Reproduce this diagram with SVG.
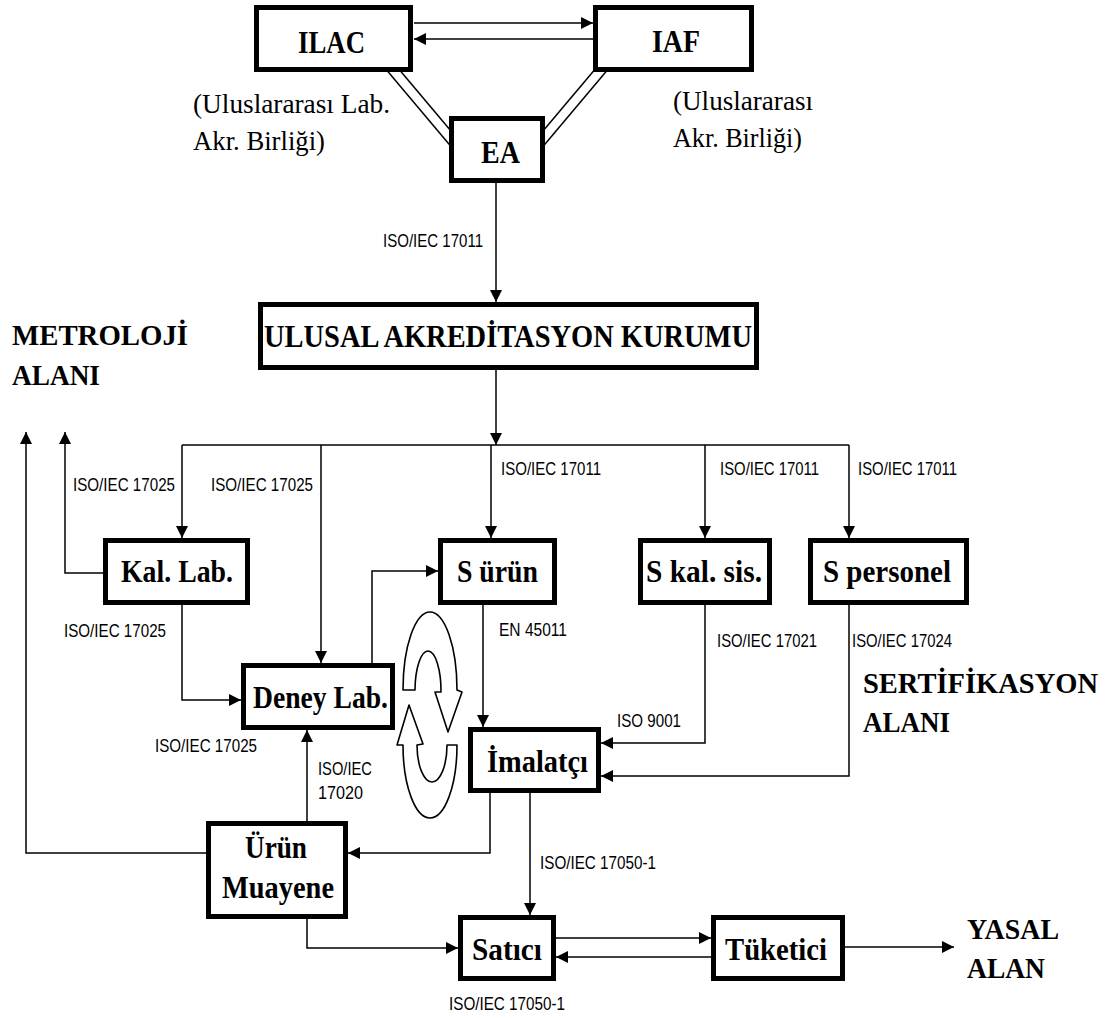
<svg xmlns="http://www.w3.org/2000/svg" width="1110" height="1018" viewBox="0 0 1110 1018">
<style>
.box{fill:#fff;stroke:#000;stroke-width:5}
.ln{fill:none;stroke:#000;stroke-width:1.5}
.arr{marker-end:url(#ah)}
.nt{font-family:"Liberation Serif","Times New Roman",serif;font-weight:bold;font-size:31px;fill:#000}
.area{font-family:"Liberation Serif","Times New Roman",serif;font-weight:bold;font-size:30px;fill:#000}
.note{font-family:"Liberation Serif","Times New Roman",serif;font-size:28px;fill:#000}
.lbl{font-family:"Liberation Sans Narrow","Liberation Sans",Arial,sans-serif;font-size:18.5px;fill:#000}
.cyc{fill:#fff;stroke:#000;stroke-width:1.6;stroke-linejoin:round}
</style>
<defs>
<marker id="ah" viewBox="0 0 12 12" refX="12" refY="6" markerWidth="12" markerHeight="12" markerUnits="userSpaceOnUse" orient="auto">
<path d="M0,0 L12,6 L0,12 z" fill="#000"/>
</marker>
</defs>
<rect width="1110" height="1018" fill="#fff"/>

<g id="connectors">
<path class="ln arr" d="M414,23 H593"/>
<path class="ln arr" d="M593,39 H414"/>
<path class="ln" d="M386.6,70 L451,146.4"/>
<path class="ln" d="M399.6,70 L451,131"/>
<path class="ln" d="M607.4,70 L543,146.4"/>
<path class="ln" d="M594.4,70 L543,131"/>
<path class="ln arr" d="M496,183 V302"/>
<path class="ln arr" d="M496,370 V445"/>
<path class="ln" d="M182,445 H849"/>
<path class="ln arr" d="M182,445 V538"/>
<path class="ln arr" d="M321,445 V663"/>
<path class="ln arr" d="M491,445 V538"/>
<path class="ln arr" d="M705,445 V538"/>
<path class="ln arr" d="M849,445 V538"/>
<path class="ln arr" d="M103,573 H65 V432"/>
<path class="ln arr" d="M206,853 H26 V432"/>
<path class="ln arr" d="M182,605 V700 H241"/>
<path class="ln arr" d="M372,663 V571 H438"/>
<path class="ln arr" d="M307,821 V730"/>
<path class="ln arr" d="M483,605 V727"/>
<path class="ln arr" d="M705,605 V743 H601"/>
<path class="ln arr" d="M849,605 V776 H601"/>
<path class="ln arr" d="M490,793 V853 H348"/>
<path class="ln arr" d="M530,793 V915"/>
<path class="ln arr" d="M307,919 V948 H458"/>
<path class="ln arr" d="M556,938 H711"/>
<path class="ln arr" d="M711,957 H556"/>
<path class="ln arr" d="M845,947 H954"/>
</g>

<g id="cycle">
<path class="cyc" d="M403,690 A27,78 0 0 1 457,690 L462,692 L448,732 L435,692 L441,692 A13,40 0 0 0 415,690 Z"/>
<path class="cyc" d="M457,745 A27,73 0 0 1 403,745 L397,745 L409,705 L423,744 L417,745 A15,37 0 0 0 447,745 Z"/>
</g>

<g id="node-ilac">
<rect class="box" x="256.5" y="7.5" width="154" height="62"/>
<text class="nt" x="298" y="53" textLength="67" lengthAdjust="spacingAndGlyphs">ILAC</text>
</g>
<g id="node-iaf">
<rect class="box" x="595.5" y="7.5" width="156" height="62"/>
<text class="nt" x="652" y="52" textLength="48" lengthAdjust="spacingAndGlyphs">IAF</text>
</g>
<g id="node-ea">
<rect class="box" x="451.5" y="118.5" width="91" height="62"/>
<text class="nt" x="481" y="163" textLength="39" lengthAdjust="spacingAndGlyphs">EA</text>
</g>
<g id="notes">
<text class="note" x="193" y="113" textLength="197" lengthAdjust="spacingAndGlyphs">(Uluslararası Lab.</text>
<text class="note" x="193" y="150" textLength="132" lengthAdjust="spacingAndGlyphs">Akr. Birliği)</text>
<text class="note" x="673" y="110" textLength="140" lengthAdjust="spacingAndGlyphs">(Uluslararası</text>
<text class="note" x="673" y="147" textLength="129" lengthAdjust="spacingAndGlyphs">Akr. Birliği)</text>
</g>
<g id="node-ulusal">
<rect class="box" x="260.5" y="304.5" width="496" height="63"/>
<text class="nt" x="264" y="347" textLength="488" lengthAdjust="spacingAndGlyphs">ULUSAL AKREDİTASYON KURUMU</text>
</g>
<g id="node-kal-lab">
<rect class="box" x="105.5" y="540.5" width="142" height="62"/>
<text class="nt" x="121" y="582" textLength="112" lengthAdjust="spacingAndGlyphs">Kal. Lab.</text>
</g>
<g id="node-s-urun">
<rect class="box" x="440.5" y="540.5" width="114" height="62"/>
<text class="nt" x="457" y="582" textLength="81" lengthAdjust="spacingAndGlyphs">S ürün</text>
</g>
<g id="node-s-kal-sis">
<rect class="box" x="640.5" y="540.5" width="129" height="62"/>
<text class="nt" x="646" y="582" textLength="116" lengthAdjust="spacingAndGlyphs">S kal. sis.</text>
</g>
<g id="node-s-personel">
<rect class="box" x="810.5" y="540.5" width="156" height="62"/>
<text class="nt" x="823" y="582" textLength="128" lengthAdjust="spacingAndGlyphs">S personel</text>
</g>
<g id="node-deney-lab">
<rect class="box" x="243.5" y="665.5" width="149" height="62"/>
<text class="nt" x="253" y="708" textLength="135" lengthAdjust="spacingAndGlyphs">Deney Lab.</text>
</g>
<g id="node-imalatci">
<rect class="box" x="470.5" y="729.5" width="128" height="61"/>
<text class="nt" x="487" y="772" textLength="101" lengthAdjust="spacingAndGlyphs">İmalatçı</text>
</g>
<g id="node-urun-muayene">
<rect class="box" x="208.5" y="823.5" width="137" height="93"/>
<text class="nt" x="245" y="858" textLength="62" lengthAdjust="spacingAndGlyphs">Ürün</text>
<text class="nt" x="222" y="898" textLength="112" lengthAdjust="spacingAndGlyphs">Muayene</text>
</g>
<g id="node-satici">
<rect class="box" x="460.5" y="917.5" width="93" height="61"/>
<text class="nt" x="472" y="960" textLength="70" lengthAdjust="spacingAndGlyphs">Satıcı</text>
</g>
<g id="node-tuketici">
<rect class="box" x="713.5" y="917.5" width="129" height="61"/>
<text class="nt" x="725" y="960" textLength="102" lengthAdjust="spacingAndGlyphs">Tüketici</text>
</g>

<g id="areas">
<text class="area" x="12" y="345" textLength="176" lengthAdjust="spacingAndGlyphs">METROLOJİ</text>
<text class="area" x="12" y="385" textLength="88" lengthAdjust="spacingAndGlyphs">ALANI</text>
<text class="area" x="863" y="693" textLength="235" lengthAdjust="spacingAndGlyphs">SERTİFİKASYON</text>
<text class="area" x="863" y="732" textLength="87" lengthAdjust="spacingAndGlyphs">ALANI</text>
<text class="area" x="967" y="939" textLength="92" lengthAdjust="spacingAndGlyphs">YASAL</text>
<text class="area" x="967" y="978" textLength="78" lengthAdjust="spacingAndGlyphs">ALAN</text>
</g>

<g id="labels">
<text class="lbl" x="383" y="247" textLength="100" lengthAdjust="spacingAndGlyphs">ISO/IEC 17011</text>
<text class="lbl" x="73" y="491" textLength="102" lengthAdjust="spacingAndGlyphs">ISO/IEC 17025</text>
<text class="lbl" x="211" y="491" textLength="102" lengthAdjust="spacingAndGlyphs">ISO/IEC 17025</text>
<text class="lbl" x="501" y="475" textLength="100" lengthAdjust="spacingAndGlyphs">ISO/IEC 17011</text>
<text class="lbl" x="720" y="475" textLength="99" lengthAdjust="spacingAndGlyphs">ISO/IEC 17011</text>
<text class="lbl" x="858" y="475" textLength="99" lengthAdjust="spacingAndGlyphs">ISO/IEC 17011</text>
<text class="lbl" x="64" y="637" textLength="102" lengthAdjust="spacingAndGlyphs">ISO/IEC 17025</text>
<text class="lbl" x="155" y="752" textLength="102" lengthAdjust="spacingAndGlyphs">ISO/IEC 17025</text>
<text class="lbl" x="318" y="775" textLength="54" lengthAdjust="spacingAndGlyphs">ISO/IEC</text>
<text class="lbl" x="318" y="799" textLength="45" lengthAdjust="spacingAndGlyphs">17020</text>
<text class="lbl" x="499" y="636" textLength="68" lengthAdjust="spacingAndGlyphs">EN 45011</text>
<text class="lbl" x="717" y="647" textLength="100" lengthAdjust="spacingAndGlyphs">ISO/IEC 17021</text>
<text class="lbl" x="852" y="647" textLength="100" lengthAdjust="spacingAndGlyphs">ISO/IEC 17024</text>
<text class="lbl" x="617" y="727" textLength="64" lengthAdjust="spacingAndGlyphs">ISO 9001</text>
<text class="lbl" x="540" y="869" textLength="116" lengthAdjust="spacingAndGlyphs">ISO/IEC 17050-1</text>
<text class="lbl" x="449" y="1010" textLength="116" lengthAdjust="spacingAndGlyphs">ISO/IEC 17050-1</text>
</g>
</svg>
